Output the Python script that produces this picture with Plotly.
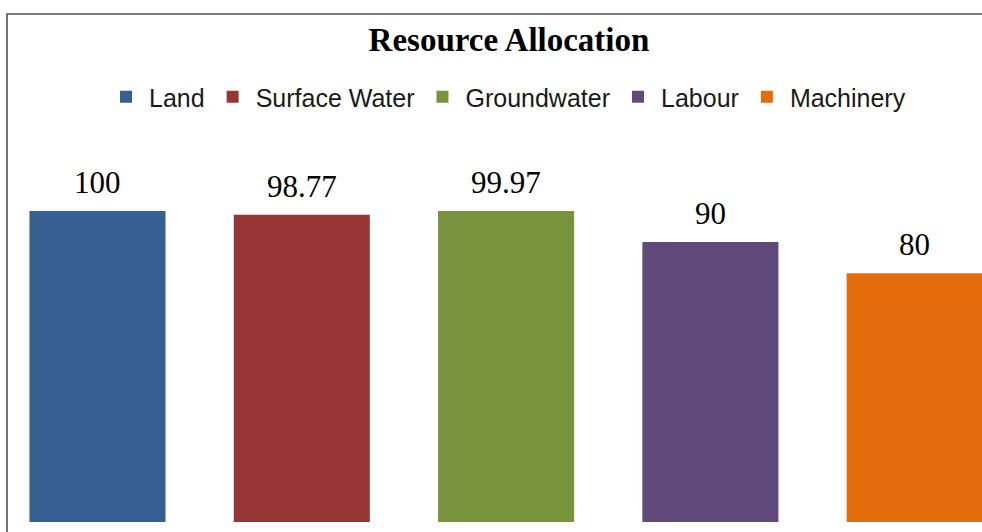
import plotly.graph_objects as go

# Resource allocation shares (%)
categories = ["Land", "Surface Water", "Groundwater", "Labour", "Machinery"]
values = [100, 98.77, 99.97, 90, 80]
colors = ["#376092", "#953735", "#77933C", "#604A7B", "#E46C0A"]

W, H = 982, 532
plot_bottom = 522  # pixel row of the value axis zero line

fig = go.Figure()
for i, (cat, val, col) in enumerate(zip(categories, values, colors)):
    fig.add_trace(go.Bar(
        x=[i], y=[val], name=cat,
        marker=dict(color=col, line=dict(width=0)),
        width=0.666,
        cliponaxis=False,
    ))
    # value label above each bar
    fig.add_annotation(
        x=i, y=val, text=f"{val:g}", showarrow=False,
        xref="x", yref="y", yanchor="bottom", yshift=9,
        font=dict(family="Liberation Serif", size=31, color="#000000"),
    )

fig.update_layout(
    width=W, height=H,
    margin=dict(l=0, r=0, t=0, b=H - plot_bottom),
    paper_bgcolor="white", plot_bgcolor="white",
    barmode="overlay",
    title=dict(
        text="<b>Resource Allocation</b>",
        font=dict(family="Liberation Serif", size=33, color="#000000"),
        x=509 / W, xanchor="center", xref="paper",
        y=1 - 39 / H, yanchor="middle", yref="container",
    ),
    legend=dict(
        orientation="h",
        x=507 / W, xanchor="center",
        y=(plot_bottom - 97) / plot_bottom, yanchor="middle",
        font=dict(family="Liberation Sans", size=25, color="#1a1a1a"),
        itemwidth=36,
        bgcolor="rgba(0,0,0,0)",
    ),
    xaxis=dict(
        range=[-97.5 / 204.3, (W - 97.5) / 204.3],
        showticklabels=False, showgrid=False, zeroline=False,
        showline=False, ticks="",
    ),
    yaxis=dict(
        range=[0, plot_bottom / 3.11],
        showticklabels=False, showgrid=False, zeroline=False,
        showline=False, ticks="",
    ),
    showlegend=True,
)

# chart frame (top and left edges visible)
fig.add_shape(
    type="rect", xref="paper", yref="paper",
    x0=7 / W, x1=1.05,
    y0=-0.05, y1=(plot_bottom - 14) / plot_bottom,
    line=dict(color="#505050", width=1.6),
    fillcolor="rgba(0,0,0,0)", layer="above",
)

fig.write_html("out.html")
